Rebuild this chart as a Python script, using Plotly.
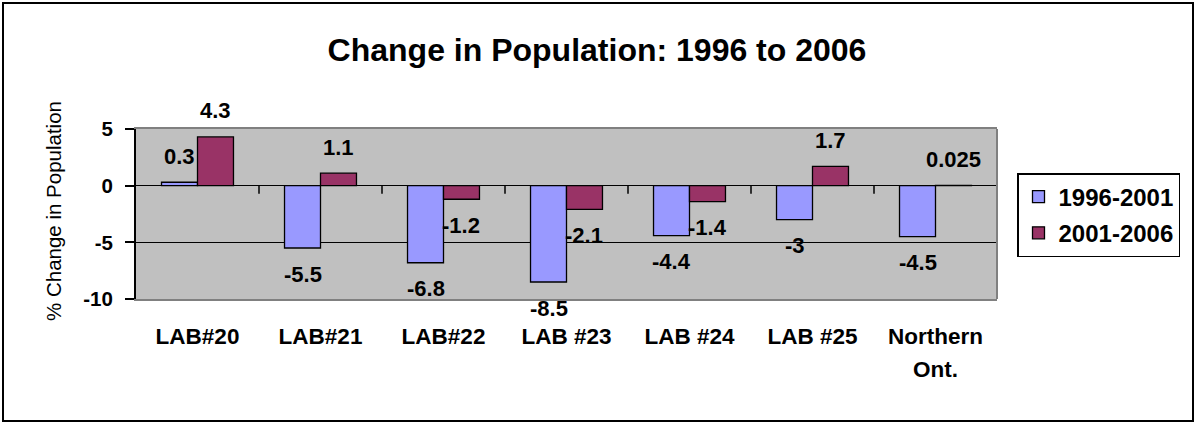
import plotly.graph_objects as go

categories = ["LAB#20", "LAB#21", "LAB#22", "LAB #23", "LAB #24", "LAB #25", "Northern Ont."]
series_names = ["1996-2001", "2001-2006"]
values_9601 = [0.3, -5.5, -6.8, -8.5, -4.4, -3, -4.5]
values_0106 = [4.3, 1.1, -1.2, -2.1, -1.4, 1.7, 0.025]
y_ticks = [-10, -5, 0, 5]

colors = ["#9999FF", "#993366"]
FONT = "Liberation Sans, Arial, sans-serif"
W, H = 1196, 423
ML, MR, MT, MB = 136, 199, 129, 124
PW, PH = W - ML - MR, H - MT - MB
BARGAP = 0.415


def px_x(p):
    return (p - ML) / PW


def px_y(p):
    return (H - MB - p) / PH


xs = list(range(len(categories)))
fig = go.Figure()
for k, (name, vals) in enumerate(zip(series_names, [values_9601, values_0106])):
    fig.add_trace(go.Bar(
        x=xs, y=vals, name=name, legendgroup=name,
        marker=dict(color=colors[k], line=dict(color="black", width=1.3)),
    ))

annotations = []
half = (1 - BARGAP) / 4
for k, vals in enumerate([values_9601, values_0106]):
    off = -half if k == 0 else half
    for i, v in enumerate(vals):
        annotations.append(dict(
            x=i + off, y=v, xref="x", yref="y", text=f"{v:g}", showarrow=False,
            yshift=26 if v >= 0 else -26, yanchor="middle", xanchor="center",
            font=dict(family=FONT, size=22, color="black", weight="bold"),
        ))

ticktext = [c.split(" ")[0] if c.startswith("Northern") else c for c in categories]
for i, c in enumerate(categories):
    if c.startswith("Northern"):
        annotations.append(dict(
            x=i, y=px_y(369), xref="x", yref="paper", text=" ".join(c.split(" ")[1:]),
            showarrow=False, yanchor="middle",
            font=dict(family=FONT, size=22.5, color="black", weight="bold"),
        ))

annotations.append(dict(
    x=px_x(53), y=px_y(211), xref="paper", yref="paper", text="% Change in Population",
    textangle=-90, showarrow=False, xanchor="center", yanchor="middle",
    font=dict(family=FONT, size=20.5, color="black"),
))

shapes = []
for i in range(len(categories)):
    shapes.append(dict(type="line", xref="x", yref="y", x0=i + 0.5, x1=i + 0.5,
                       ysizemode="pixel", yanchor=0, y0=0, y1=-8,
                       line=dict(color="black", width=1.5)))
shapes.append(dict(type="line", xref="paper", yref="paper", x0=1, x1=1, y0=0, y1=1,
                   line=dict(color="#808080", width=2)))
shapes.append(dict(type="rect", xref="paper", yref="paper",
                   x0=px_x(3), x1=px_x(1193), y0=px_y(421), y1=px_y(3),
                   line=dict(color="black", width=2)))

fig.update_layout(
    width=W, height=H,
    margin=dict(l=ML, r=MR, t=MT, b=MB, autoexpand=False),
    paper_bgcolor="white", plot_bgcolor="#C0C0C0",
    barmode="group", bargap=BARGAP, bargroupgap=0,
    title=dict(text="Change in Population: 1996 to 2006", x=597 / W, xref="container",
               y=1 - 50 / H, yref="container", xanchor="center", yanchor="middle",
               font=dict(family=FONT, size=32, color="black", weight="bold")),
    xaxis=dict(range=[-0.5, len(categories) - 0.5], tickvals=xs, ticktext=ticktext,
               showgrid=False, zeroline=False, showline=True, linecolor="#808080",
               linewidth=2, mirror=True, ticks="outside", ticklen=16,
               tickcolor="rgba(0,0,0,0)",
               tickfont=dict(family=FONT, size=22.5, color="black", weight="bold")),
    yaxis=dict(range=[-10, 5], tickvals=y_ticks, ticktext=[str(t) for t in y_ticks],
               showgrid=True, gridcolor="black",
               gridwidth=1, zeroline=True, zerolinecolor="black", zerolinewidth=1,
               showline=True, linecolor="black", linewidth=2, ticks="outside",
               ticklen=9, tickwidth=1.5, tickcolor="black", ticklabelstandoff=8,
               tickfont=dict(family=FONT, size=20.5, color="black", weight="bold")),
    legend=dict(x=px_x(1017), y=px_y(173), xanchor="left", yanchor="top",
                bordercolor="black", borderwidth=1.5, bgcolor="white",
                traceorder="grouped", tracegroupgap=2,
                font=dict(family=FONT, size=24, color="black", weight="bold")),
    annotations=annotations, shapes=shapes,
)

fig.write_html("out.html", config={"displayModeBar": False},
               post_script="document.body.style.margin='0';")
